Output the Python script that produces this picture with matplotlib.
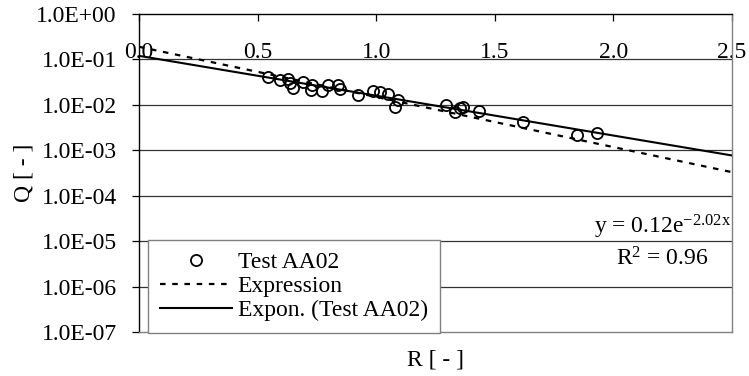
''' Test AA02: Q against R on a log scale, with expression and exponential trend line '''

import numpy as np
import matplotlib
matplotlib.use("Agg")
import matplotlib.pyplot as plt

# measured points (Test AA02)
r_values = [0.544, 0.594, 0.628, 0.637, 0.649, 0.691, 0.729, 0.725, 0.772, 0.797,
            0.839, 0.847, 0.923, 0.987, 1.016, 1.050, 1.092, 1.079, 1.294, 1.332,
            1.353, 1.366, 1.433, 1.619, 1.847, 1.931]
q_values = [0.0414, 0.0356, 0.0374, 0.0305, 0.0237, 0.0321, 0.0276, 0.0214, 0.0203, 0.0276,
            0.0276, 0.0225, 0.0166, 0.0203, 0.0193, 0.0175, 0.0129, 0.0090, 0.0100, 0.0070,
            0.0086, 0.0090, 0.0074, 0.0042, 0.0022, 0.0024]

# expression line
expr_r = [0.0, 2.5]
expr_q = [0.19, 3.3e-4]

# exponential trend line y = a * exp(b x)
fit_a = 0.12
fit_b = -2.02
fit_r2 = 0.96
trend_r = np.array([0.0, 2.5])

x_ticks = [0.0, 0.5, 1.0, 1.5, 2.0, 2.5]
x_labels = ["0.0", "0.5", "1.0", "1.5", "2.0", "2.5"]
y_ticks = [1e0, 1e-1, 1e-2, 1e-3, 1e-4, 1e-5, 1e-6, 1e-7]
y_labels = ["1.0E+00", "1.0E-01", "1.0E-02", "1.0E-03", "1.0E-04",
            "1.0E-05", "1.0E-06", "1.0E-07"]

plt.rcParams['font.family'] = ['Liberation Serif', 'DejaVu Serif']
plt.rcParams['mathtext.fontset'] = 'custom'
plt.rcParams['mathtext.rm'] = 'Liberation Serif'
plt.rcParams['mathtext.it'] = 'Liberation Serif'
FS = 17

fig = plt.figure(figsize=(7.49, 3.76), dpi=100)
ax = fig.add_axes([139 / 749, 1 - 332 / 376, 593 / 749, 318 / 376])

ax.set_yscale('log')
ax.set_xlim(0, 2.5)
ax.set_ylim(1e-7, 1e0)

for y in y_ticks[1:-1]:
    ax.axhline(y, color='#333333', lw=0.9, zorder=1)

ax.plot(r_values, q_values, linestyle='none', marker='o', markersize=8,
        markerfacecolor='none', markeredgecolor='black', markeredgewidth=1.3,
        label="Test AA02", zorder=4)
ax.plot(expr_r, expr_q, color='black', lw=1.6, linestyle=(0, (2.5, 3)),
        label="Expression", zorder=3)
ax.plot(trend_r, fit_a * np.exp(fit_b * trend_r), color='black', lw=1.5,
        label="Expon. (Test AA02)", zorder=3)

ax.xaxis.tick_top()
ax.set_xticks(x_ticks)
ax.set_xticklabels(x_labels, fontsize=FS)
ax.tick_params(axis='x', direction='in', length=5, width=0.9, pad=-35)
ax.set_yticks(y_ticks)
ax.set_yticklabels(y_labels, fontsize=FS)
ax.yaxis.set_minor_locator(matplotlib.ticker.NullLocator())
ax.tick_params(axis='y', direction='out', length=5, width=0.9, pad=11)

ax.spines['top'].set_color('black')
ax.spines['left'].set_color('black')
ax.spines['right'].set_color('#808080')
ax.spines['bottom'].set_color('#808080')
for s in ax.spines.values():
    s.set_linewidth(1.0)

ax.set_ylabel("Q [ - ]", fontsize=FS)
ax.yaxis.set_label_coords(-0.177, 0.5)
ax.xaxis.set_label_position('bottom')
ax.set_xlabel("R [ - ]", fontsize=FS)
ax.xaxis.set_label_coords(0.5, -0.055)

ax.text(0.883, 0.33, "y = 0.12e$^{\\mathrm{-2.02x}}$", transform=ax.transAxes,
        ha='center', va='center', fontsize=FS)
ax.text(0.883, 0.23, "R$^{2}$ = 0.96", transform=ax.transAxes,
        ha='center', va='center', fontsize=FS)

leg = ax.legend(loc='lower left', bbox_to_anchor=(0.015, -0.003), borderaxespad=0,
                fontsize=FS, frameon=True, fancybox=False, edgecolor='#808080',
                handlelength=3.05, handletextpad=0.25, labelspacing=0.1,
                borderpad=0.5, framealpha=1)
leg.get_frame().set_linewidth(1.0)
leg.set_zorder(5)

fig.savefig("out.png", dpi=100)
